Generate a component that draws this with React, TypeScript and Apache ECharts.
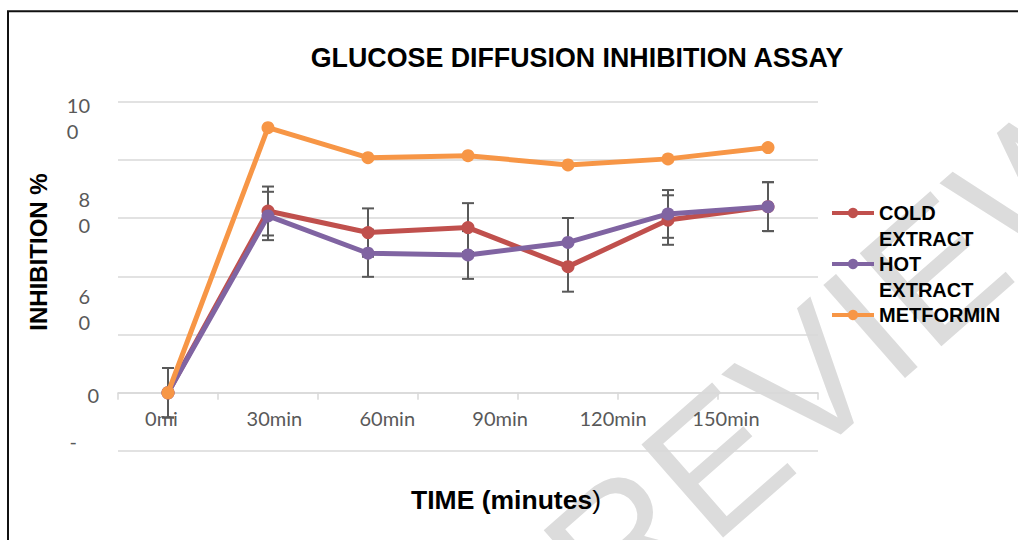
import React, { useEffect, useRef } from "react";
import * as echarts from "echarts";

const categories = ["0min", "30min", "60min", "90min", "120min", "150min", "180min"];
const xTickLabels = ["0mi", "30min", "60min", "90min", "120min", "150min"];
const coldExtract = [0, 62.4, 55.0, 56.7, 43.3, 59.3, 63.9];
const hotExtract = [0, 60.7, 47.9, 47.3, 51.6, 61.4, 63.9];
const metformin = [0, 91.0, 80.7, 81.4, 78.2, 80.3, 84.2];
const coldError = [8.5, 8.4, 8.3, 8.4, 8.6, 8.5, 8.4];
const hotError = [8.5, 8.3, 8.1, 8.2, 8.4, 8.2, 8.4];
// tick labels as printed in the source chart (wrapped and misplaced), keyed by the gridline they sit on
const yTickLabels: Record<string, string> = { "100": "10\n0", "60": "8\n0", "40": "6\n0", "0": "0", "-20": "-" };
const seriesNames = ["COLD EXTRACT", "HOT EXTRACT", "METFORMIN"];
const legendLines: Record<string, string> = {
  "COLD EXTRACT": " \nCOLD\nEXTRACT",
  "HOT EXTRACT": " \nHOT\nEXTRACT",
  "METFORMIN": " \nMETFORMIN\n ",
};
const titleText = "GLUCOSE DIFFUSION INHIBITION ASSAY";
const yAxisTitle = "INHIBITION %";
const watermarkText = "REVIEW";

const COLORS = ["#C0504D", "#8064A2", "#F79646"];
const LABEL_FONT = "Lato";
const LABEL_COLOR = "#595959";

const yLabelStyleKey: Record<string, string> = { "100": "a", "60": "b", "40": "c", "0": "d", "-20": "e" };
const yRichBase = { fontFamily: LABEL_FONT, fontSize: 20, color: LABEL_COLOR, lineHeight: 26 };

function errorBarSeries(values: number[], errors: number[], z: number) {
  return {
    type: "custom",
    z,
    silent: true,
    data: values.map((v, i) => [i, v, errors[i]]),
    renderItem: (_p: any, api: any) => {
      const x = api.value(0);
      const v = api.value(1);
      const e = api.value(2);
      const top = api.coord([x, v + e]);
      const bot = api.coord([x, v - e]);
      const hw = 6;
      const st = { stroke: "#595959", lineWidth: 2 };
      return {
        type: "group",
        children: [
          { type: "line", shape: { x1: top[0], y1: top[1], x2: bot[0], y2: bot[1] }, style: st },
          { type: "line", shape: { x1: top[0] - hw, y1: top[1], x2: top[0] + hw, y2: top[1] }, style: st },
          { type: "line", shape: { x1: bot[0] - hw, y1: bot[1], x2: bot[0] + hw, y2: bot[1] }, style: st },
        ],
      };
    },
  };
}

function lineSeries(name: string, data: number[], color: string, z: number) {
  return {
    name,
    type: "line",
    data,
    z,
    symbol: "circle",
    symbolSize: 13,
    itemStyle: { color },
    lineStyle: { color, width: 5 },
  };
}

export default function App() {
  const ref = useRef<HTMLDivElement>(null);
  useEffect(() => {
    if (!ref.current) return;
    const chart = echarts.init(ref.current, undefined, { renderer: "svg" });
    const option: any = {
      animation: false,
      backgroundColor: "#ffffff",
      grid: [
        { left: 118, width: 700, top: 101.5, height: 349.5 },
        { left: 105, width: 677.4, top: 101.5, height: 291.5 },
      ],
      xAxis: [
        {
          type: "category",
          gridIndex: 0,
          data: categories,
          boundaryGap: true,
          axisLine: { onZero: true, lineStyle: { color: "#d9d9d9", width: 1.5 } },
          axisTick: { show: true, length: 7, lineStyle: { color: "#d9d9d9", width: 1.5 } },
          axisLabel: { show: false },
          splitLine: { show: false },
        },
        {
          type: "category",
          gridIndex: 1,
          data: xTickLabels,
          axisLine: { show: false },
          axisTick: { show: false },
          axisLabel: { fontFamily: LABEL_FONT, fontSize: 20, color: LABEL_COLOR, margin: 15, interval: 0 },
        },
      ],
      yAxis: [
        {
          type: "value",
          gridIndex: 0,
          min: -20,
          max: 100,
          interval: 20,
          axisLine: { show: false },
          axisTick: { show: false },
          splitLine: { lineStyle: { color: "#d9d9d9", width: 1.5 } },
          axisLabel: {
            margin: 19,
            showMinLabel: true,
            showMaxLabel: true,
            hideOverlap: false,
            formatter: (v: number) => {
              const t = yTickLabels[String(v)];
              if (!t) return "";
              const k = yLabelStyleKey[String(v)];
              return t
                .split("\n")
                .map((s) => `{${k}|${s}}`)
                .join("\n");
            },
            rich: {
              a: { ...yRichBase, align: "left", padding: [32, 9, 0, 0] },
              b: { ...yRichBase, align: "right", padding: [0, 9, 13, 0] },
              c: { ...yRichBase, align: "right", padding: [66, 9, 0, 0] },
              d: { ...yRichBase, align: "right", padding: [4, 0, 0, 0] },
              e: { ...yRichBase, align: "right", padding: [0, 22, 20, 0] },
            },
          },
        },
        { type: "value", gridIndex: 1, show: false, min: -20, max: 100 },
      ],
      legend: {
        data: seriesNames,
        orient: "vertical",
        left: 830,
        top: 174,
        padding: 0,
        itemGap: -27,
        itemWidth: 42,
        itemHeight: 13,
        lineStyle: { width: 4 },
        formatter: (n: string) => legendLines[n],
        textStyle: {
          fontFamily: "Liberation Sans",
          fontWeight: "bold",
          fontSize: 20,
          color: "#000",
          lineHeight: 26,
        },
      },
      series: [
        errorBarSeries(coldExtract, coldError, 1),
        errorBarSeries(hotExtract, hotError, 1),
        lineSeries(seriesNames[0], coldExtract, COLORS[0], 3),
        lineSeries(seriesNames[1], hotExtract, COLORS[1], 4),
        lineSeries(seriesNames[2], metformin, COLORS[2], 5),
      ],
      graphic: [
        {
          type: "text",
          z: -10,
          x: 840,
          y: 352,
          rotation: 0.72,
          style: {
            text: watermarkText,
            fill: "#dcdcdc",
            fontFamily: "Liberation Sans",
            fontSize: 180,
            align: "center",
            verticalAlign: "middle",
          },
        },
        {
          type: "polyline",
          shape: { points: [[8, 540], [8, 11.3], [1018, 11.3]] },
          style: { stroke: "#111", lineWidth: 2, fill: null },
        },
        {
          type: "text",
          x: 577,
          y: 58,
          style: {
            text: titleText,
            fontFamily: "Liberation Sans",
            fontWeight: "bold",
            fontSize: 26.8,
            fill: "#000",
            align: "center",
            verticalAlign: "middle",
          },
        },
        {
          type: "text",
          x: 38,
          y: 252,
          rotation: Math.PI / 2,
          style: {
            text: yAxisTitle,
            fontFamily: "Liberation Sans",
            fontWeight: "bold",
            fontSize: 24,
            fill: "#000",
            align: "center",
            verticalAlign: "middle",
          },
        },
        {
          type: "text",
          x: 506,
          y: 500,
          style: {
            text: "{b|TIME (minutes}{n|)}",
            align: "center",
            verticalAlign: "middle",
            rich: {
              b: { fontFamily: "Liberation Sans", fontWeight: "bold", fontSize: 26.5, fill: "#000" },
              n: { fontFamily: "Liberation Sans", fontWeight: "normal", fontSize: 26.5, fill: "#000" },
            },
          },
        },
      ],
    };
    chart.setOption(option);
    return () => chart.dispose();
  }, []);
  return (
    <div
      ref={ref}
      style={{ position: "fixed", left: 0, top: 0, width: 1018, height: 540, background: "#fff" }}
    />
  );
}
